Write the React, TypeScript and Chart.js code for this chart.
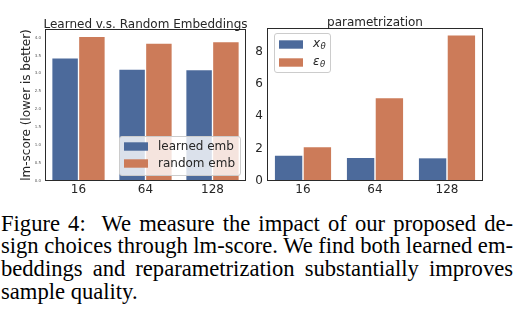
import React, { useEffect, useRef } from 'react';
import { Chart, registerables } from 'chart.js';

Chart.register(...registerables);

// ---------- data ----------
const sizes = ['16', '64', '128'];
const embLabels = ['learned emb', 'random emb'];
const learnedEmb = [3.42, 3.1, 3.09];
const randomEmb = [4.02, 3.83, 3.87];
const paramLabels = ['x_θ', 'ε_θ'];
const xTheta = [1.56, 1.42, 1.4];
const epsTheta = [2.08, 5.11, 8.99];
const embTitle = 'Learned v.s. Random Embeddings';
const paramTitle = 'parametrization';
const embAxisTitle = 'lm-score (lower is better)';
const captionLines = [
  'Figure 4:\u00a0 We measure the impact of our proposed de-',
  'sign choices through lm-score. We find both learned em-',
  'beddings and reparametrization substantially improves',
  'sample quality.',
];

const BLUE = '#4C6A9B';
const ORANGE = '#CC7B59';
const INK = '#262626';
const FONT = "'DejaVu Sans', sans-serif";

const framePlugin = {
  id: 'frame',
  afterDatasetsDraw(chart: any) {
    const { ctx, chartArea: a } = chart;
    ctx.save();
    ctx.strokeStyle = '#2a2a2a';
    ctx.lineWidth = 1;
    const l = Math.round(a.left) + 0.5;
    const t = Math.round(a.top) + 0.5;
    const r = Math.round(a.right) - 0.5;
    const b = Math.round(a.bottom) - 0.5;
    ctx.strokeRect(l, t, r - l, b - t);
    ctx.restore();
  },
};

const areaTitlePlugin = {
  id: 'areaTitle',
  afterDraw(chart: any, _args: any, opts: any) {
    const { ctx, chartArea: a } = chart;
    ctx.save();
    ctx.font = `12px ${FONT}`;
    ctx.fillStyle = INK;
    ctx.textAlign = 'center';
    ctx.textBaseline = 'alphabetic';
    ctx.fillText(opts.text, (a.left + a.right) / 2, opts.baseline);
    ctx.restore();
  },
};

const innerLegendPlugin = {
  id: 'innerLegend',
  afterDraw(chart: any, _args: any, o: any) {
    const { ctx } = chart;
    ctx.save();
    const r = 2.5;
    ctx.beginPath();
    ctx.moveTo(o.x + r, o.y);
    ctx.lineTo(o.x + o.w - r, o.y);
    ctx.arcTo(o.x + o.w, o.y, o.x + o.w, o.y + r, r);
    ctx.lineTo(o.x + o.w, o.y + o.h - r);
    ctx.arcTo(o.x + o.w, o.y + o.h, o.x + o.w - r, o.y + o.h, r);
    ctx.lineTo(o.x + r, o.y + o.h);
    ctx.arcTo(o.x, o.y + o.h, o.x, o.y + o.h - r, r);
    ctx.lineTo(o.x, o.y + r);
    ctx.arcTo(o.x, o.y, o.x + r, o.y, r);
    ctx.closePath();
    ctx.fillStyle = 'rgba(255,255,255,0.8)';
    ctx.fill();
    ctx.strokeStyle = '#cccccc';
    ctx.lineWidth = 1;
    ctx.stroke();
    chart.data.datasets.forEach((ds: any, i: number) => {
      const cy = o.firstRow + i * o.rowGap;
      ctx.fillStyle = ds.backgroundColor;
      ctx.fillRect(o.swX, cy - 4.2, 24, 8.4);
      ctx.fillStyle = INK;
      ctx.textBaseline = 'middle';
      ctx.textAlign = 'left';
      const label: string = ds.label;
      if (label.includes('_')) {
        const [main, sub] = label.split('_');
        ctx.font = `italic 12px ${FONT}`;
        ctx.fillText(main, o.textX, cy - 1);
        const w = ctx.measureText(main).width;
        ctx.font = `italic 8.5px ${FONT}`;
        ctx.fillText(sub, o.textX + w + 0.5, cy + 2.5);
      } else {
        ctx.font = `12px ${FONT}`;
        ctx.fillText(label, o.textX, cy);
      }
    });
    ctx.restore();
  },
};

function BarPanel(props: any) {
  const ref = useRef<HTMLCanvasElement | null>(null);
  useEffect(() => {
    const p = props;
    const chart = new Chart(ref.current as HTMLCanvasElement, {
      type: 'bar',
      data: {
        labels: sizes,
        datasets: [
          { label: p.labels[0], data: p.a, backgroundColor: BLUE, categoryPercentage: 0.8, barPercentage: 0.95 },
          { label: p.labels[1], data: p.b, backgroundColor: ORANGE, categoryPercentage: 0.8, barPercentage: 0.95 },
        ],
      },
      options: {
        animation: false,
        responsive: false,
        devicePixelRatio: 1,
        layout: { padding: { top: p.padTop, right: p.padRight, left: 0, bottom: 0 } },
        plugins: {
          legend: { display: false },
          tooltip: { enabled: false },
          title: { display: false },
          areaTitle: { text: p.title, baseline: p.titleBaseline },
          innerLegend: p.legend,
        } as any,
        scales: {
          x: {
            grid: { display: false, drawTicks: false },
            border: { display: false },
            ticks: { color: INK, font: { family: FONT, size: 12 }, padding: 2 },
            afterFit: (s: any) => { s.height = 19; },
          },
          y: {
            min: 0,
            max: p.max,
            grid: { display: false, drawTicks: false },
            border: { display: false },
            ticks: {
              stepSize: p.step,
              includeBounds: false,
              color: p.tickColor,
              font: { family: FONT, size: p.tickSize },
              padding: p.tickPad,
              callback: p.tickFmt,
            },
            title: p.axisTitle
              ? { display: true, text: p.axisTitle, color: INK, font: { family: FONT, size: 12 }, padding: { top: 19.8, bottom: 0 } }
              : { display: false },
            afterFit: (s: any) => { s.width = p.yWidth; },
          },
        },
      } as any,
      plugins: [framePlugin, areaTitlePlugin, innerLegendPlugin],
    });
    return () => chart.destroy();
  }, []);
  return (
    <canvas
      ref={ref}
      width={props.width}
      height={200}
      style={{ position: 'absolute', left: props.left, top: 0, width: props.width, height: 200, display: 'block' }}
    />
  );
}

export default function App() {
  return (
    <div style={{ position: 'absolute', left: 0, top: 0, width: 516, height: 325, background: '#fff', overflow: 'hidden' }}>
      <BarPanel
        left={0}
        width={250}
        labels={embLabels}
        a={learnedEmb}
        b={randomEmb}
        max={4.24}
        step={0.5}
        tickSize={4}
        tickColor="#555"
        tickPad={4}
        tickFmt={(v: any) => Number(v).toFixed(1)}
        axisTitle={embAxisTitle}
        yWidth={45}
        padTop={29}
        padRight={4}
        title={embTitle}
        titleBaseline={27.5}
        legend={{ x: 119.5, y: 136.5, w: 121, h: 39, swX: 124, textX: 158, firstRow: 146.5, rowGap: 17 }}
      />
      <BarPanel
        left={250}
        width={266}
        labels={paramLabels}
        a={xTheta}
        b={epsTheta}
        max={9.45}
        step={2}
        tickSize={12}
        tickColor={INK}
        tickPad={4}
        tickFmt={(v: any) => String(v)}
        axisTitle={null}
        yWidth={17}
        padTop={28}
        padRight={33}
        title={paramTitle}
        titleBaseline={26}
        legend={{ x: 24.5, y: 33.5, w: 56, h: 39, swX: 29, textX: 63, firstRow: 44.5, rowGap: 18 }}
      />
      <div
        style={{
          position: 'absolute',
          left: 1,
          top: 212.7,
          width: 512,
          fontFamily: "'Liberation Serif', 'Times New Roman', serif",
          fontSize: 22.6,
          lineHeight: '22.8px',
          wordSpacing: '-1px',
          color: '#000',
        }}
      >
        {captionLines.map((line, i) => (
          <div
            key={i}
            style={{
              textAlign: i < captionLines.length - 1 ? 'justify' : 'left',
              textAlignLast: i < captionLines.length - 1 ? 'justify' : 'left',
              wordSpacing: i < captionLines.length - 1 ? '-1px' : '0px',
            } as any}
          >
            {line}
          </div>
        ))}
      </div>
    </div>
  );
}
